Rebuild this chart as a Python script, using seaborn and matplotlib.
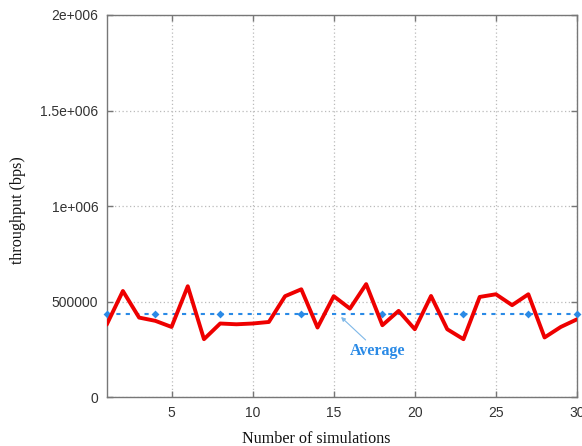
import matplotlib
matplotlib.use("Agg")
import matplotlib.pyplot as plt
import seaborn as sns
import pandas as pd
import numpy as np

simulations = list(range(1, 31))
throughput = [380000, 556000, 417000, 400000, 368000, 581000, 304000, 386000, 382000, 386000,
              394000, 529000, 565000, 365000, 529000, 464000, 592000, 377000, 452000, 356000,
              530000, 356000, 304000, 525000, 539000, 482000, 539000, 313000, 368000, 408000]
average_value = 438000
average_marker_x = [1, 4, 8, 13, 18, 23, 27, 30]
x_ticks = [5, 10, 15, 20, 25, 30]
y_ticks = [0, 500000, 1000000, 1500000, 2000000]
y_tick_labels = ["0", "500000", "1e+006", "1.5e+006", "2e+006"]

df = pd.DataFrame({"sim": simulations, "tp": throughput})
avg_df = pd.DataFrame({"sim": simulations, "avg": [average_value] * len(simulations)})
avg_mk = pd.DataFrame({"sim": average_marker_x, "avg": [average_value] * len(average_marker_x)})

sns.set_style("ticks")
plt.rcParams["font.family"] = ["Liberation Sans", "DejaVu Sans"]

fig = plt.figure(figsize=(5.82, 4.46), dpi=100)
ax = fig.add_axes([0.1833, 0.1092, 0.8081, 0.8572])

blue = "#2A8AE6"
sns.lineplot(data=avg_df, x="sim", y="avg", ax=ax, color=blue, linestyle=(0, (2, 2.5)),
             linewidth=1.5, zorder=2)
sns.scatterplot(data=avg_mk, x="sim", y="avg", ax=ax, color=blue, marker="D", s=16,
                edgecolor=blue, linewidth=0, zorder=3, clip_on=False)
sns.lineplot(data=df, x="sim", y="tp", ax=ax, color="#EE0000", linewidth=2.8, zorder=4)

ax.set_xlim(1, 30)
ax.set_ylim(0, 2000000)
ax.set_xticks(x_ticks)
ax.set_xticklabels([str(t) for t in x_ticks])
ax.set_yticks(y_ticks)
ax.set_yticklabels(y_tick_labels)
ax.tick_params(direction="in", top=True, right=True, length=4, width=1, color="#777777",
               labelsize=10, labelcolor="#333333", pad=6)
ax.grid(True, linestyle=(0, (1, 2)), color="#BBBBBB", linewidth=0.9)
for s in ax.spines.values():
    s.set_color("#777777")
    s.set_linewidth(1.0)

ax.set_xlabel("Number of simulations", family=["Liberation Serif", "DejaVu Serif"], fontsize=11.6,
              color="#111111")
ax.xaxis.set_label_coords(0.445, -0.088)
ax.set_ylabel("throughput (bps)", family=["Liberation Serif", "DejaVu Serif"], fontsize=11.6,
              color="#111111")
ax.yaxis.set_label_coords(-0.172, 0.49)

ax.annotate("Average", xy=(15.45, 420000), xytext=(16.0, 241000),
            fontsize=11.5, fontweight="bold", color=blue,
            family=["Liberation Serif", "DejaVu Serif"], va="center", ha="left",
            arrowprops=dict(arrowstyle="-|>", color="#7FB8E8", lw=0.8, mutation_scale=6,
                            shrinkA=0, shrinkB=0))

fig.savefig("out.png", dpi=100)
